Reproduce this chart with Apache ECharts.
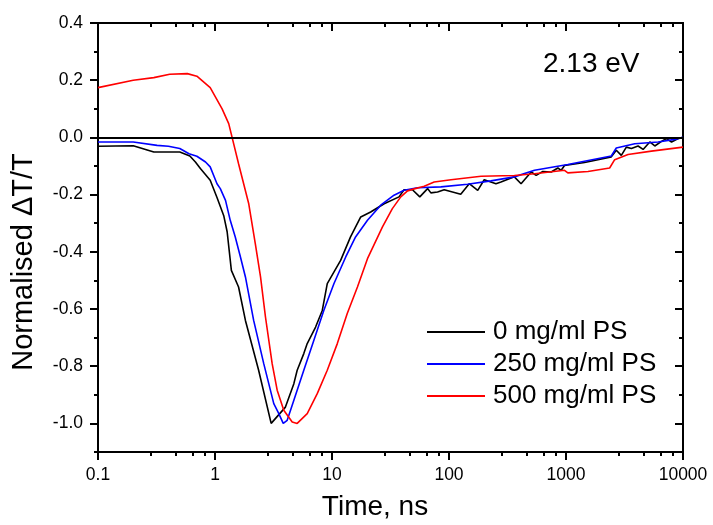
<!DOCTYPE html>
<html><head><meta charset="utf-8">
<script src="https://cdn.jsdelivr.net/npm/echarts@6/dist/echarts.min.js"></script>
<style>html,body{margin:0;padding:0;background:#fff}#c{width:713px;height:525px}</style>
</head><body><div id="c"></div>
<script>
// ---- data (time in ns, normalised dT/T) ----
const names = ['0 mg/ml PS', '250 mg/ml PS', '500 mg/ml PS'];
const colors = ['#000000', '#0000ff', '#ff0000'];

const t0 = [0.1,0.2,0.3,0.5,0.61,0.68,0.75,0.91,1.04,1.19,1.27,1.38,1.59,1.82,2.36,3.02,4.0,4.72,5.04,5.74,6.14,7.24,8.26,9.11,11.85,14.4,17.6,21.4,27.9,37.4,41.3,48.7,56.3,65.6,70,79.8,91,126,149,176,200,252,278,362,413,504,556,634,747,852,910,971,1441,2440,2690,2970,3280,3620,4130,4560,5200,5740,6550,7230,7980,9100,10000];
const v0 = [-0.031,-0.029,-0.051,-0.051,-0.065,-0.086,-0.109,-0.15,-0.21,-0.275,-0.33,-0.465,-0.523,-0.64,-0.814,-1.0,-0.943,-0.861,-0.814,-0.756,-0.721,-0.663,-0.605,-0.511,-0.43,-0.348,-0.278,-0.261,-0.232,-0.208,-0.183,-0.183,-0.208,-0.179,-0.194,-0.191,-0.183,-0.199,-0.162,-0.185,-0.148,-0.162,-0.156,-0.138,-0.162,-0.121,-0.133,-0.119,-0.121,-0.107,-0.115,-0.098,-0.088,-0.068,-0.045,-0.063,-0.034,-0.039,-0.030,-0.042,-0.016,-0.030,-0.014,-0.004,-0.016,-0.004,0.0];

const t250 = [0.1,0.2,0.32,0.4,0.5,0.6,0.7,0.83,0.91,1.04,1.11,1.23,1.35,1.49,1.65,1.82,2.14,2.61,3.18,3.51,3.83,4.14,4.72,5.74,7.0,8.51,10.4,13.1,15.9,20.1,26.1,33.9,41.3,53.8,85.2,144,228,362,538,1037,2440,2690,3870,6130,8510,10000];
const v250 = [-0.016,-0.016,-0.028,-0.031,-0.039,-0.057,-0.066,-0.086,-0.103,-0.162,-0.179,-0.22,-0.29,-0.348,-0.418,-0.488,-0.64,-0.791,-0.931,-0.966,-1.0,-0.989,-0.919,-0.814,-0.709,-0.605,-0.511,-0.418,-0.348,-0.29,-0.237,-0.202,-0.185,-0.176,-0.173,-0.164,-0.152,-0.138,-0.115,-0.095,-0.065,-0.037,-0.022,-0.016,-0.007,0.0];

const t500 = [0.1,0.2,0.3,0.41,0.58,0.7,0.91,1.15,1.31,1.40,1.59,1.94,2.21,2.45,2.70,3.08,3.40,3.87,4.57,5.04,6.14,7.48,9.11,11.1,13.5,16.5,20.1,27,32.8,38.7,44.2,50.4,61.4,74.7,104,188,362,538,971,1037,1541,2360,2607,3390,5370,10000];
const v500 = [0.174,0.2,0.209,0.221,0.223,0.214,0.174,0.10,0.048,0.0,-0.092,-0.231,-0.371,-0.488,-0.628,-0.791,-0.884,-0.954,-0.995,-1.0,-0.966,-0.896,-0.814,-0.721,-0.616,-0.523,-0.424,-0.313,-0.249,-0.208,-0.187,-0.18,-0.171,-0.156,-0.148,-0.136,-0.133,-0.127,-0.115,-0.124,-0.119,-0.107,-0.078,-0.060,-0.048,-0.034];

// ---- tick values ----
const yMajor = [-1.0, -0.8, -0.6, -0.4, -0.2, 0.0, 0.2, 0.4];

const FONT = '"Liberation Sans", Arial, sans-serif';
const BLACK = '#000';
const GRID = { left: 98, right: 30, top: 23, bottom: 73 };
const LS = { color: BLACK, width: 2 };

function logX(grid, pos, inside, labels) {
  return {
    gridIndex: grid, type: 'log', logBase: 10, min: 0.1, max: 10000, position: pos,
    axisLine: { show: true, onZero: false, lineStyle: LS },
    axisTick: { show: true, inside: inside, length: 8, lineStyle: LS },
    minorTick: { show: true, length: 4, lineStyle: LS },
    axisLabel: labels ? {
      show: true, margin: 14, fontSize: 17.5, color: BLACK, fontFamily: FONT,
      formatter: v => String(Number(Number(v).toPrecision(6)))
    } : { show: false },
    splitLine: { show: false }
  };
}
function majorY(grid, pos, inside, labels) {
  return {
    gridIndex: grid, type: 'value', min: -1.1, max: 0.4, position: pos,
    axisLine: { show: true, onZero: false, lineStyle: LS },
    axisTick: { show: true, inside: inside, length: 8, customValues: yMajor, lineStyle: LS },
    axisLabel: {
      show: labels, customValues: yMajor, margin: 15, fontSize: 17.5, color: BLACK, fontFamily: FONT,
      formatter: v => Number(v).toFixed(1)
    },
    splitLine: { show: false }, minorTick: { show: false }
  };
}
function minorY(grid, pos, inside) {
  return {
    gridIndex: grid, type: 'value', min: -1.1, max: 0.4, interval: 0.1, position: pos,
    axisLine: { show: true, onZero: false, lineStyle: LS },
    axisTick: { show: true, inside: inside, length: 4, lineStyle: LS },
    axisLabel: { show: false },
    splitLine: { show: false }, minorTick: { show: false }
  };
}
function hiddenX(grid) {
  return { gridIndex: grid, type: 'value', min: 0, max: 1, show: false, splitLine: { show: false } };
}

function zip(t, v) { return t.map((x, i) => [x, v[i]]); }
const seriesData = [zip(t0, v0), zip(t250, v250), zip(t500, v500)];

const chart = echarts.init(document.getElementById('c'));
chart.setOption({
  animation: false,
  backgroundColor: '#fff',
  textStyle: { fontFamily: FONT },
  grid: [GRID, GRID, GRID, GRID].map(g => Object.assign({ containLabel: false }, g)),
  xAxis: [logX(0, 'bottom', false, true), logX(1, 'top', true, false), hiddenX(2), hiddenX(3)],
  yAxis: [majorY(0, 'left', false, true), majorY(1, 'right', true, false), minorY(2, 'left', false), minorY(3, 'right', true)],
  legend: {
    orient: 'vertical', left: 427, top: 319, padding: 0,
    icon: 'rect', itemWidth: 58, itemHeight: 2, itemGap: 6,
    data: names,
    textStyle: { fontSize: 26, color: BLACK, fontFamily: FONT, lineHeight: 24, padding: [0, 0, 0, 3] }
  },
  graphic: [
    { type: 'text', x: 543, y: 64, style: { text: '2.13 eV', fontSize: 28, fontFamily: FONT, fill: BLACK, align: 'left', verticalAlign: 'middle' } },
    { type: 'text', x: 24, y: 262, rotation: Math.PI / 2, style: { text: 'Normalised \u0394T/T', fontSize: 29, fontFamily: FONT, fill: BLACK, align: 'center', verticalAlign: 'middle' } },
    { type: 'text', x: 375, y: 507, style: { text: 'Time, ns', fontSize: 28, fontFamily: FONT, fill: BLACK, align: 'center', verticalAlign: 'middle' } }
  ],
  series: names.map((n, i) => ({
    name: n, type: 'line', xAxisIndex: 0, yAxisIndex: 0,
    data: seriesData[i], symbol: 'none', smooth: false,
    lineStyle: { color: colors[i], width: 1.6 }, itemStyle: { color: colors[i] },
    markLine: i === 0 ? {
      silent: true, symbol: 'none', label: { show: false },
      lineStyle: { color: BLACK, width: 2, type: 'solid' },
      data: [{ yAxis: 0 }]
    } : undefined
  }))
});
</script></body></html>
